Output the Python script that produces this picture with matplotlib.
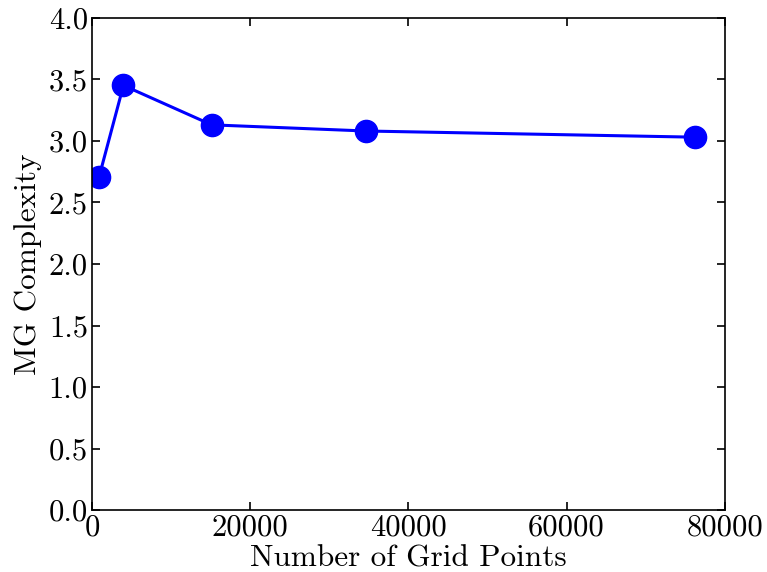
import matplotlib
matplotlib.use("Agg")
import matplotlib.pyplot as plt

# computer modern look, like the latex original
plt.rcParams["font.family"] = "serif"
plt.rcParams["font.serif"] = ["cmr10"]
plt.rcParams["mathtext.fontset"] = "cm"
plt.rcParams["axes.formatter.use_mathtext"] = True

# data
grid_points = [900, 3969, 15129, 34596, 76176]
mg_complexity = [2.71, 3.45, 3.13, 3.08, 3.03]

xticks = [0, 20000, 40000, 60000, 80000]
yticks = [0.0, 0.5, 1.0, 1.5, 2.0, 2.5, 3.0, 3.5, 4.0]

fig = plt.figure(figsize=(7.67, 5.72), dpi=100)
ax = fig.add_axes([0.12, 0.108, 0.825, 0.861])

ax.plot(grid_points, mg_complexity, "o-", color="blue", lw=2.2,
        markersize=16, markeredgecolor="blue")

ax.set_xlim(0, 80000)
ax.set_ylim(0, 4.0)
ax.set_xticks(xticks)
ax.set_yticks(yticks)
ax.set_xticklabels([str(t) for t in xticks])
ax.set_yticklabels(["%.1f" % t for t in yticks])
ax.tick_params(direction="in", top=True, right=True, length=6, width=1.2,
               labelsize=22, pad=3)
for sp in ax.spines.values():
    sp.set_linewidth(1.2)

ax.set_xlabel("Number of Grid Points", fontsize=22.5, labelpad=2)
ax.set_ylabel("MG Complexity", fontsize=22.5, labelpad=5)

fig.savefig("out.png", dpi=100)
